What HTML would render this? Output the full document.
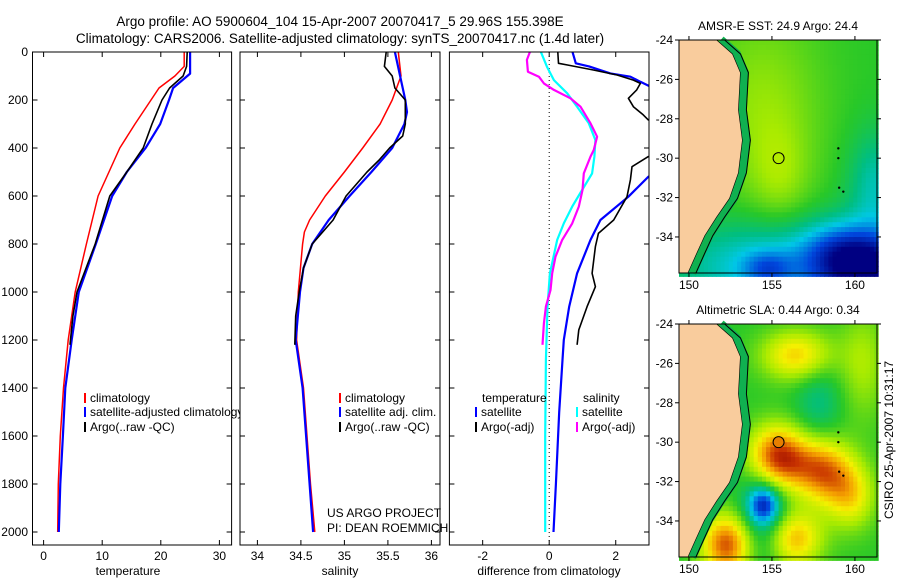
<!DOCTYPE html>
<html><head><meta charset="utf-8"><style>
html,body{margin:0;padding:0;background:#fff;}
svg{display:block;font-family:"Liberation Sans",sans-serif;}
</style></head><body>
<svg id="fig" width="900" height="580" viewBox="0 0 900 580" xmlns="http://www.w3.org/2000/svg">
<text x="340" y="26" font-size="13.5" text-anchor="middle">Argo profile: AO 5900604_104 15-Apr-2007 20070417_5 29.96S 155.398E</text>
<text x="340" y="43" font-size="13.5" text-anchor="middle">Climatology: CARS2006. Satellite-adjusted climatology: synTS_20070417.nc (1.4d later)</text>
<g id="panels"></g>
<g id="maps"></g>
<text transform="translate(893,440) rotate(-90)" font-size="12" text-anchor="middle">CSIRO 25-Apr-2007 10:31:17</text>
</svg>
<script>
// ---- depth ticks
const depthTicks=[0,200,400,600,800,1000,1200,1400,1600,1800,2000];
const tempTicks=[0,10,20,30];
const salTicks=[34,34.5,35,35.5,36];
const diffTicks=[-2,0,2];
// ---- temperature profiles
const tClimDepth=[0,60,100,150,300,400,600,800,1000,1200,1400,1600,1800,2000];
const tClimVal=[24.0,24.0,22.4,19.7,15.6,13.0,9.3,7.3,5.4,4.2,3.4,2.85,2.5,2.4];
const tSatDepth=[0,90,150,200,300,400,500,600,800,1000,1200,1400,1600,1800,2000];
const tSatVal=[25.0,25.0,22.1,21.4,19.9,17.4,14.2,11.7,8.9,6.0,4.8,3.7,3.3,2.85,2.6];
const tArgoDepth=[0,60,100,150,200,300,400,500,600,800,1000,1100,1220];
const tArgoVal=[24.5,24.4,23.8,21.5,20.2,18.5,17.0,14.2,11.3,8.8,5.7,5.0,4.5];
// ---- salinity profiles
const sClimDepth=[0,100,200,300,400,500,600,700,750,800,1000,1200,1400,1600,1800,2000];
const sClimVal=[35.62,35.65,35.55,35.41,35.21,35.0,34.78,34.6,34.54,34.52,34.47,34.45,34.53,34.57,34.61,34.66];
const sSatDepth=[0,100,200,250,300,400,500,600,700,800,900,1000,1200,1400,1600,1800,2000];
const sSatVal=[35.58,35.64,35.70,35.72,35.69,35.55,35.31,35.06,34.82,34.63,34.53,34.49,34.44,34.52,34.56,34.60,34.64];
const sArgoDepth=[0,60,100,150,200,300,350,400,450,500,600,700,750,800,900,1000,1100,1220];
const sArgoVal=[35.48,35.46,35.55,35.58,35.70,35.70,35.67,35.52,35.40,35.26,35.02,34.87,34.75,34.63,34.53,34.48,34.44,34.43];
// ---- differences from climatology
const dTSatDepth=[0,47,60,89,103,124,140,160,500,520,603,700,783,922,1061,1200,1283,1500,1800,2000];
const dTSatVal=[0.7,0.8,1.2,1.84,2.44,2.74,2.98,3.3,3.3,2.98,2.38,1.54,1.24,0.84,0.6,0.44,0.4,0.3,0.2,0.13];
const dTArgoDepth=[0,47,54,75,96,117,131,158,193,228,262,283,300,420,436,478,533,603,700,756,811,922,978,1061,1158,1220];
const dTArgoVal=[0.26,0.28,0.55,1.33,2.04,2.53,2.74,2.63,2.38,2.53,2.83,2.98,3.3,3.3,2.98,2.49,2.44,2.34,1.94,1.48,1.39,1.29,1.39,1.14,0.89,0.84];
const dSSatDepth=[0,61,117,172,228,297,367,436,506,575,644,714,783,922,1061,1283,1600,2000];
const dSSatVal=[-0.25,-0.07,0.14,0.54,0.84,1.19,1.39,1.36,1.29,0.99,0.69,0.44,0.24,0.02,-0.05,-0.1,-0.12,-0.12];
const dSArgoDepth=[0,33,82,103,131,158,193,228,297,353,408,436,506,575,644,714,783,853,922,992,1061,1131,1220];
const dSArgoVal=[-0.58,-0.67,-0.64,-0.31,-0.16,0.14,0.64,0.94,1.24,1.44,1.34,1.24,1.04,1.0,0.89,0.69,0.39,0.19,0.09,0.04,-0.1,-0.16,-0.2];

const NS='http://www.w3.org/2000/svg';
function mk(tag,attrs,parent){const e=document.createElementNS(NS,tag);for(const k in attrs)e.setAttribute(k,attrs[k]);if(parent)parent.appendChild(e);return e;}
const Y0=52,Y1=545,PXD=0.24;
function yD(d){return Y0+d*PXD;}
const panelsG=document.getElementById('panels');
const panels=[
 {name:'temperature-panel',x0:32.5,x1:231.6,vmin:-11.1/5.86,vmax:188/5.86,ticks:tempTicks,label:'temperature',lx:128},
 {name:'salinity-panel',x0:240,x1:440,vmin:34-17.4/87,vmax:34+182.6/87,ticks:salTicks,label:'salinity',lx:340},
 {name:'difference-panel',x0:449.4,x1:649,vmin:-3,vmax:3,ticks:diffTicks,label:'difference from climatology',lx:549}
];
panels.forEach((p,i)=>{
 p.x=v=>p.x0+(v-p.vmin)/(p.vmax-p.vmin)*(p.x1-p.x0);
 const g=mk('g',{},panelsG);
 
 
 mk('rect',{x:p.x0,y:Y0,width:p.x1-p.x0,height:Y1-Y0,fill:'#fff'},g);
 const cp=mk('clipPath',{id:'clip'+i},g);
 mk('rect',{x:p.x0,y:Y0,width:p.x1-p.x0,height:Y1-Y0},cp);
 p.g=g;p.clip='url(#clip'+i+')';
});
function drawFrame(p,i){
 const g=p.g;
 mk('rect',{x:p.x0,y:Y0,width:p.x1-p.x0,height:Y1-Y0,fill:'none',stroke:'#000','stroke-width':1},g);
 depthTicks.forEach(d=>{
  const y=yD(d);
  mk('line',{x1:p.x0,x2:p.x0+5,y1:y,y2:y,stroke:'#000'},g);
  mk('line',{x1:p.x1-5,x2:p.x1,y1:y,y2:y,stroke:'#000'},g);
  if(i===0){const t=mk('text',{x:28,y:y+4,'font-size':12,'text-anchor':'end'},g);t.textContent=d;
   
   }
 });
 p.ticks.forEach(v=>{
  const x=p.x(v);
  mk('line',{x1:x,x2:x,y1:Y1,y2:Y1-5,stroke:'#000'},g);
  mk('line',{x1:x,x2:x,y1:Y0,y2:Y0+5,stroke:'#000'},g);
  const t=mk('text',{x:x,y:560,'font-size':12,'text-anchor':'middle'},g);t.textContent=v;
  
  
 });
 const l=mk('text',{x:p.lx,y:575,'font-size':12,'text-anchor':'middle'},g);l.textContent=p.label;
 
 
}
function line(p,depths,vals,color,w,name){
 const pts=depths.map((d,k)=>p.x(vals[k]).toFixed(1)+','+yD(d).toFixed(1)).join(' ');
 const e=mk('polyline',{points:pts,fill:'none',stroke:color,'stroke-width':w,'clip-path':p.clip,'stroke-linejoin':'round'},p.g);
 
 
}
function legend(g,x,y,color,text,name){
 if(color)mk('rect',{x:x,y:y-9,width:2,height:10,fill:color},g);
 const t=mk('text',{x:x+(color?6:0),y:y,'font-size':12},g);t.textContent=text;
 
 
}
const P=panels;
line(P[0],tClimDepth,tClimVal,'#f00',1.5,'temp-climatology-line');
line(P[0],tSatDepth,tSatVal,'#00f',2.2,'temp-satellite-line');
line(P[0],tArgoDepth,tArgoVal,'#000',1.6,'temp-argo-line');
line(P[1],sClimDepth,sClimVal,'#f00',1.5,'sal-climatology-line');
line(P[1],sSatDepth,sSatVal,'#00f',2.2,'sal-satellite-line');
line(P[1],sArgoDepth,sArgoVal,'#000',1.6,'sal-argo-line');
{const z=P[2].x(0);const e=mk('line',{x1:z,x2:z,y1:Y0,y2:Y1,stroke:'#000','stroke-dasharray':'1,3'},P[2].g);
 
 }
line(P[2],dSSatDepth,dSSatVal,'#0ff',2.2,'sal-diff-satellite-line');
line(P[2],dSArgoDepth,dSArgoVal,'#f0f',2.2,'sal-diff-argo-line');
line(P[2],dTSatDepth,dTSatVal,'#00f',2.2,'temp-diff-satellite-line');
line(P[2],dTArgoDepth,dTArgoVal,'#000',1.6,'temp-diff-argo-line');
// legends
legend(P[0].g,84,402,'#f00','climatology','legend-climatology');
legend(P[0].g,84,416,'#00f','satellite-adjusted climatology','legend-satellite');
legend(P[0].g,84,431,'#000','Argo(..raw -QC)','legend-argo');
legend(P[1].g,339,402,'#f00','climatology','legend-climatology');
legend(P[1].g,339,416,'#00f','satellite adj. clim.','legend-satellite');
legend(P[1].g,339,431,'#000','Argo(..raw -QC)','legend-argo');
legend(P[1].g,327,517,null,'US ARGO PROJECT','project-note');
legend(P[1].g,327,532,null,'PI: DEAN ROEMMICH','pi-note');
legend(P[2].g,482,402,null,'temperature','legend-temperature-heading');
legend(P[2].g,475,416,'#00f','satellite','legend-temp-satellite');
legend(P[2].g,475,431,'#000','Argo(-adj)','legend-temp-argo');
legend(P[2].g,583,402,null,'salinity','legend-salinity-heading');
legend(P[2].g,576,416,'#0ff','satellite','legend-sal-satellite');
legend(P[2].g,576,431,'#f0f','Argo(-adj)','legend-sal-argo');
panels.forEach((p,i)=>drawFrame(p,i));

// ---- maps
const latTicks=[-24,-26,-28,-30,-32,-34];
const lonTicks=[150,155,160];
const argoLon=155.4, argoLat=-30;
const sstTitle='AMSR-E SST: 24.9 Argo: 24.4';
const slaTitle='Altimetric SLA: 0.44 Argo: 0.34';
const mapsG=document.getElementById('maps');
const LON0=149.4,LON1=161.33,LAT0=-24,LAT1=-35.83;
const cmap=[[0,0,0,130],[0.15,0,70,220],[0.3,0,200,230],[0.4,0,190,130],[0.5,40,200,40],[0.62,170,235,0],[0.72,245,240,0],[0.82,245,160,0],[0.92,200,50,0],[1,140,0,0]];
function jet(v){v=Math.max(0,Math.min(1,v));
 for(let k=1;k<cmap.length;k++){if(v<=cmap[k][0]){const a=cmap[k-1],b=cmap[k],t=(v-a[0])/(b[0]-a[0]);
  return 'rgb('+[1,2,3].map(j=>Math.round(a[j]+(b[j]-a[j])*t)).join(',')+')';}}
 return 'rgb(140,0,0)';}
function gs(lon,lat,cx,cy,sx,sy){return Math.exp(-((lon-cx)**2/(2*sx*sx)+(lat-cy)**2/(2*sy*sy)));}
function sst(lo,la){return 0.5+0.1*gs(lo,la,154.5,-27.5,2.5,3.5)+0.07*gs(lo,la,155.5,-31,1.2,1.8)-0.22*gs(lo,la,155,-35.5,4,1.6)-0.45*gs(lo,la,160.8,-35.6,2.2,1.3)-0.15*gs(lo,la,161.3,-31.5,1.2,2)-0.12*gs(lo,la,159,-34.5,1.5,1)-0.15*gs(lo,la,154.7,-35.6,1,0.6);}
function sla(lo,la){return 0.5+0.32*gs(lo,la,155.2,-30.6,1.2,1.1)+0.22*gs(lo,la,156.6,-31.2,1.6,1.1)+0.26*gs(lo,la,156.5,-25.6,1.5,0.9)+0.4*gs(lo,la,152.3,-35.2,1.1,1.1)+0.3*gs(lo,la,156.3,-34.9,1.2,1)+0.24*gs(lo,la,158.3,-31.6,1.1,1.2)+0.22*gs(lo,la,159.8,-32.7,1,1.2)-0.3*gs(lo,la,154.5,-33.2,0.6,0.6)-0.18*gs(lo,la,154.5,-33.8,1.1,1.8)-0.1*gs(lo,la,157.8,-28,1,1.5)+0.12*gs(lo,la,160.5,-26,1,2);}
const coast=[[0.19,0],[0.27,0.06],[0.31,0.14],[0.30,0.30],[0.32,0.43],[0.30,0.57],[0.255,0.68],[0.19,0.76],[0.13,0.84],[0.087,0.92],[0.045,1]];
function drawMap(name,title,mx,my,field){
 const W=198,H=233;
 const g=mk('g',{},mapsG);
 
 
 const lx=lo=>mx+(lo-LON0)/(LON1-LON0)*W, ly=la=>my+(la-LAT0)/(LAT1-LAT0)*H;
 const st=0.25;
 for(let lo=LON0;lo<LON1;lo+=st){for(let la=LAT0;la>LAT1;la-=st){
  mk('rect',{x:lx(lo).toFixed(1),y:ly(la).toFixed(1),width:(W*st/(LON1-LON0)+0.6).toFixed(1),height:(H*st/(LAT0-LAT1)+0.6).toFixed(1),fill:jet(field(lo+st/2,la-st/2))},g);}}
 const cpts=coast.map(c=>[mx+c[0]*W,my+c[1]*H]);
 mk('polyline',{points:cpts.map(c=>(c[0]+4)+','+c[1]).join(' '),fill:'none',stroke:'#10b050','stroke-width':9},g);
 mk('polyline',{points:cpts.map(c=>(c[0]+8)+','+c[1]).join(' '),fill:'none',stroke:'#000','stroke-width':1},g);
 const land=mk('polygon',{points:cpts.map(c=>c.join(',')).join(' ')+' '+mx+','+(my+H)+' '+mx+','+my,fill:'#f9cc9d',stroke:'#000','stroke-width':0.6},g);
 
 
 [[159,-29.5],[159,-30],[159.05,-31.5],[159.3,-31.7]].forEach(c=>mk('circle',{cx:lx(c[0]),cy:ly(c[1]),r:1.2,fill:'#000'},g));
 const mk1=mk('circle',{cx:lx(argoLon),cy:ly(argoLat),r:5.5,fill:jet(field(argoLon,argoLat)),stroke:'#000'},g);
 
 
 mk('rect',{x:mx,y:my,width:W,height:H,fill:'none',stroke:'#000'},g);
 const t=mk('text',{x:mx+W/2,y:my-10,'font-size':12,'text-anchor':'middle'},g);t.textContent=title;
 
 
 latTicks.forEach(v=>{const y=ly(v);mk('line',{x1:mx-4,x2:mx,y1:y,y2:y,stroke:'#000'},g);mk('line',{x1:mx+W,x2:mx+W+4,y1:y,y2:y,stroke:'#000'},g);
  const tt=mk('text',{x:mx-6,y:y+4,'font-size':12,'text-anchor':'end'},g);tt.textContent=v;
  
  });
 lonTicks.forEach(v=>{const x=lx(v);mk('line',{x1:x,x2:x,y1:my+H,y2:my+H+4,stroke:'#000'},g);mk('line',{x1:x,x2:x,y1:my-4,y2:my,stroke:'#000'},g);
  const tt=mk('text',{x:x,y:my+H+16,'font-size':12,'text-anchor':'middle'},g);tt.textContent=v;
  
  });
}
drawMap('sst-map',sstTitle,679,40,sst);
drawMap('sla-map',slaTitle,679,324,sla);
</script>
</body></html>
